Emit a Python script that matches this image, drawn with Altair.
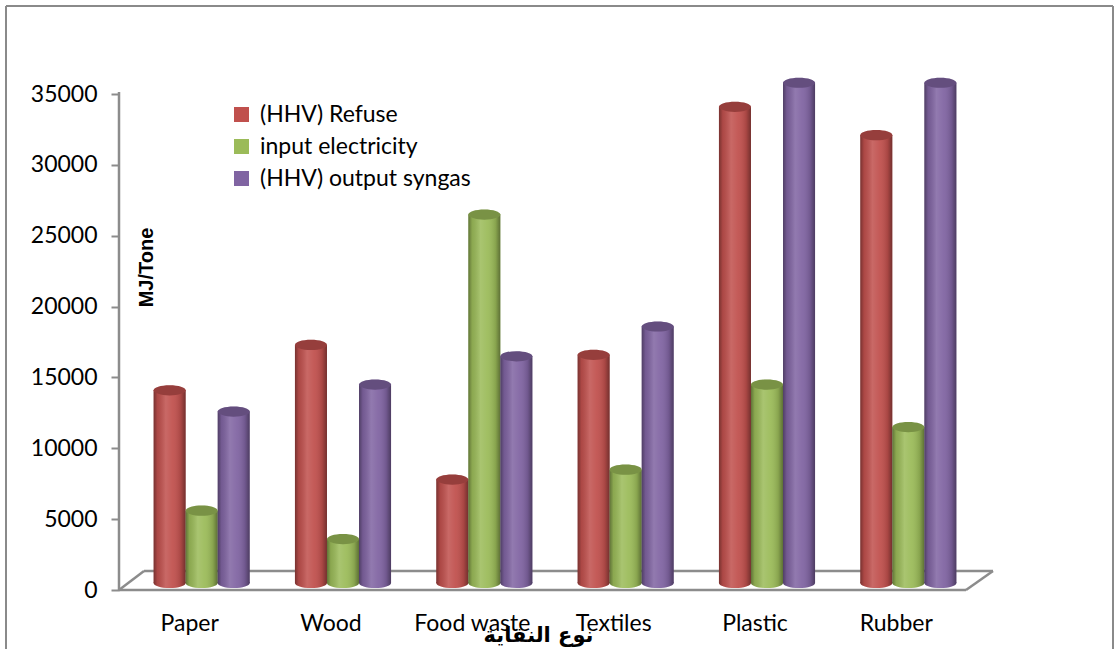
import altair as alt
import pandas as pd

# Waste types and the three measured quantities (MJ per tonne)
categories = ["Paper", "Wood", "Food waste", "Textiles", "Plastic", "Rubber"]
series = ["(HHV) Refuse", "input electricity", "(HHV) output syngas"]
refuse_hhv = [13600, 16800, 7300, 16100, 33600, 31600]
input_elec = [5100, 3100, 26000, 8000, 14000, 11000]
syngas_hhv = [12100, 14000, 16000, 18100, 35300, 35300]
colors = ["#C0504D", "#9BBB59", "#8064A2"]
y_ticks = [0, 5000, 10000, 15000, 20000, 25000, 30000, 35000]

rows = []
for s, vals in zip(series, [refuse_hhv, input_elec, syngas_hhv]):
    for c, v in zip(categories, vals):
        rows.append({"waste": c, "series": s, "value": v})
df = pd.DataFrame(rows)

W, H = 848, 496
GRID = "#8c8c8c"
ELLIPSE = "M -1 0 A 1 0.32 0 1 1 1 0 A 1 0.32 0 1 1 -1 0 Z"
CAP_SIZE = 1024

# horizontal shading that turns a flat bar into a cylinder
shade = alt.LinearGradient(
    gradient="linear", x1=0, x2=1, y1=0, y2=0,
    stops=[
        alt.GradientStop(color="rgba(0,0,0,0.38)", offset=0),
        alt.GradientStop(color="rgba(0,0,0,0.10)", offset=0.12),
        alt.GradientStop(color="rgba(255,255,255,0.14)", offset=0.38),
        alt.GradientStop(color="rgba(255,255,255,0.06)", offset=0.6),
        alt.GradientStop(color="rgba(0,0,0,0.12)", offset=0.85),
        alt.GradientStop(color="rgba(0,0,0,0.40)", offset=1),
    ],
)

x_enc = alt.X(
    "waste:N", sort=categories,
    scale=alt.Scale(paddingInner=0.32, paddingOuter=0.16),
    axis=alt.Axis(
        title="نوع النفاية", titleFont="DejaVu Sans", titleFontSize=21,
        titleFontWeight="bold", titleColor="#000", titleX=407, titleY=52,
        titleBaseline="middle", titleAlign="center",
        labelAngle=0, labelFont="Lato", labelFontSize=23, labelColor="#000",
        labelOffset=-12, labelPadding=47, labelBaseline="alphabetic",
        domain=False, ticks=False, tickSize=0,
    ),
)
xoff_enc = alt.XOffset("series:N", sort=series, scale=alt.Scale(paddingInner=0, paddingOuter=0))
y_scale = alt.Scale(domain=[0, 35000], nice=False)
y_axis = alt.Axis(
    title="MJ/Tone", titleFont="Liberation Sans", titleFontSize=20,
    titleFontWeight="bold", titleColor="#000", titleAngle=270,
    titleX=27, titleY=180, titleAlign="center", titleBaseline="middle",
    values=y_ticks, format="d", labelFont="Lato", labelFontSize=23,
    labelColor="#000", labelPadding=14, tickSize=8, tickWidth=2,
    tickColor=GRID, tickOffset=7, offset=12, domain=False, grid=False,
)
color_enc = alt.Color(
    "series:N", sort=series,
    scale=alt.Scale(domain=series, range=colors),
    legend=alt.Legend(
        title=None, orient="none", legendX=99, legendY=16,
        symbolType="square", symbolSize=225, symbolStrokeWidth=0,
        symbolOpacity=1, labelFont="Lato", labelFontSize=23, labelLimit=0,
        labelColor="#000", labelOffset=7, rowPadding=8, padding=0,
    ),
)

base = alt.Chart(df).encode(x=x_enc, xOffset=xoff_enc)
y_top = alt.Y("value:Q", scale=y_scale, axis=y_axis)
y_zero = alt.Y("zero:Q", scale=y_scale, axis=y_axis)

bottom_cap = base.transform_calculate(zero="0").mark_point(
    shape=ELLIPSE, size=CAP_SIZE, filled=True, opacity=1, strokeWidth=0
).encode(y=y_zero, color=color_enc)
bottom_shade = base.transform_calculate(zero="0").mark_point(
    shape=ELLIPSE, size=CAP_SIZE, filled=True, opacity=1, strokeWidth=0, fill=shade
).encode(y=y_zero)
bars = base.mark_bar(opacity=1, strokeWidth=0).encode(y=y_top, color=color_enc)
bars_shade = base.mark_bar(opacity=1, strokeWidth=0, fill=shade).encode(y=y_top)
top_cap = base.mark_point(
    shape=ELLIPSE, size=CAP_SIZE, filled=True, opacity=1, strokeWidth=0
).encode(y=y_top, color=color_enc)
top_dark = base.mark_point(
    shape=ELLIPSE, size=CAP_SIZE, filled=True, opacity=0.22, strokeWidth=0, color="#000"
).encode(y=y_top)

one = pd.DataFrame({"k": [0]})


def seg(x1, y1, x2, y2, color=GRID, width=2.5):
    return alt.Chart(one).mark_rule(color=color, strokeWidth=width).encode(
        x=alt.value(x1), y=alt.value(y1), x2=alt.value(x2), y2=alt.value(y2)
    )


# floor of the 3-D plot, vertical axis line and outer frame
floor = [
    seg(-12, H + 7, 835, H + 7),
    seg(13, H - 12, 862, H - 12),
    seg(-12, H + 7, 13, H - 12),
    seg(835, H + 7, 862, H - 12),
    seg(-12, 5, -12, H + 7),
]
frame = [
    seg(-125, -81, 982, -81, "#8a8a8a", 2),
    seg(-125, -81, -125, 562, "#8a8a8a", 2),
    seg(982, -81, 982, 562, "#8a8a8a", 2),
]

chart = alt.layer(
    *frame, *floor, bottom_cap, bottom_shade, bars, bars_shade, top_cap, top_dark
).properties(
    width=W, height=H,
    padding={"left": 5, "top": 5, "right": 3, "bottom": 2},
    background="white",
).configure_view(stroke=None)

chart.save("out.html", embed_options={"renderer": "svg", "actions": False})
